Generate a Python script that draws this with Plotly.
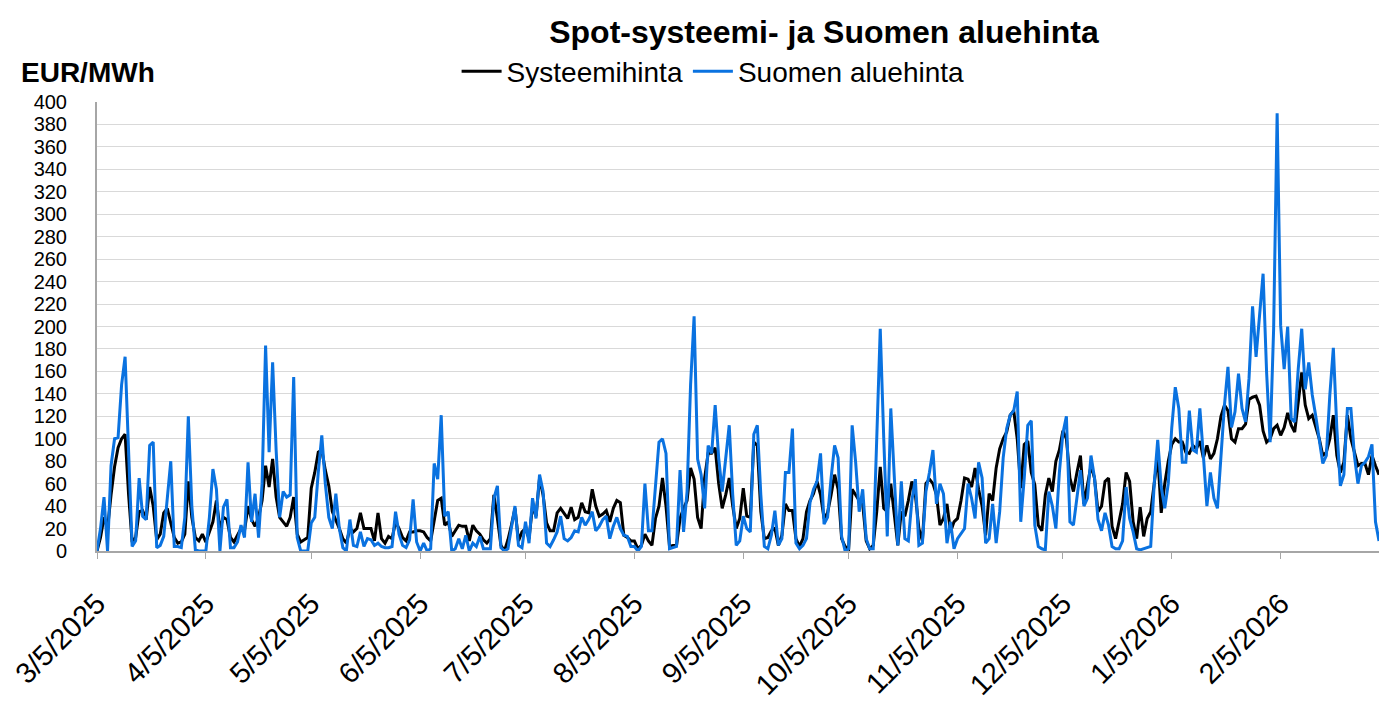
import pandas as pd
import plotly.graph_objects as go

# Daily prices, EUR/MWh, month by month (5th to 4th)
sys_m01 = [0,12,30,20,50,75,92,100,104,50,8,12,35,36,28,57,40,10,15,34,38,25,12,7,8,15,62,30,12,9,15]
fin_m01 = [0,20,48,0,76,100,101,148,173,80,4,9,65,31,28,94,97,3,5,13,45,80,4,4,3,30,120,40,1,0,0]
sys_m02 = [8,18,26,45,20,30,28,12,8,14,20,18,40,28,22,30,45,76,57,82,48,30,26,22,30,48,15,8,10,12]
fin_m02 = [0,30,73,55,0,39,46,3,3,8,23,12,79,26,51,12,60,183,88,168,90,30,53,48,50,155,12,0,0,0]
sys_m03 = [56,70,88,90,72,58,35,28,20,11,7,20,17,20,34,20,20,20,9,34,11,7,13,11,26,20,12,9,17,17,18]
fin_m03 = [25,30,70,103,60,30,20,51,20,3,0,28,5,4,17,4,11,10,5,7,4,3,3,4,35,15,5,3,10,46,8]
sys_m04 = [18,17,12,9,26,45,47,23,26,13,18,23,22,22,9,23,18,15,10,7,11,50,29,5,0,10,23,38,9,17]
fin_m04 = [0,7,0,2,78,64,121,31,35,0,2,11,2,14,0,7,4,13,2,2,2,47,58,3,0,2,20,40,5,3]
sys_m05 = [20,11,40,31,65,50,25,18,18,34,38,34,29,39,28,30,43,35,34,55,40,31,33,36,26,38,45,43,14,12,9]
fin_m05 = [26,7,47,29,68,53,7,4,10,17,31,11,9,12,18,17,30,23,28,35,18,22,28,31,11,22,30,20,14,13,4]
sys_m06 = [9,2,5,15,9,5,29,40,65,40,4,5,5,29,38,45,74,64,30,20,65,87,87,92,60,38,50,65,40,20,29]
fin_m06 = [4,0,4,60,18,18,60,97,100,87,2,3,4,72,17,53,148,209,82,68,38,94,87,130,83,53,85,112,50,5,9]
sys_m07 = [56,31,30,97,94,35,11,12,18,20,5,14,42,36,36,11,4,11,35,45,51,62,50,29,34,50,68,55,11,4]
fin_m07 = [31,20,17,104,112,50,4,2,14,36,5,11,70,70,109,7,2,5,11,43,55,62,87,24,30,65,94,83,13,0]
sys_m08 = [2,55,50,45,42,9,2,5,35,75,38,35,60,30,5,35,31,45,62,50,20,9,60,64,60,50,23,29,42,17,26]
fin_m08 = [2,112,79,35,55,11,2,2,94,198,100,13,127,68,5,62,11,9,45,64,5,7,53,70,90,42,60,51,7,26,2]
sys_m09 = [29,45,65,64,57,74,55,40,14,51,45,74,91,100,106,121,125,100,56,95,98,70,59,23,18,50,65,53,80,90]
fin_m09 = [11,15,20,60,47,29,79,65,7,11,42,7,35,83,109,121,125,142,26,65,112,116,23,4,2,1,53,40,20,70]
sys_m10 = [107,100,65,53,70,85,42,60,76,65,35,40,62,65,22,11,25,42,70,62,26,11,39,13,29,35,60,85,34,60,80]
fin_m10 = [105,120,26,23,50,72,40,47,85,65,28,18,34,23,4,2,2,9,57,29,17,2,1,2,3,4,60,99,57,38,60]
sys_m11 = [95,100,97,97,88,87,94,91,98,83,94,82,87,100,120,130,125,100,97,109,109,113,135,137,138,130,107,97,100,109,112]
fin_m11 = [110,146,127,79,79,125,90,88,127,85,40,70,47,38,85,130,164,110,124,158,127,115,154,218,173,210,247,159,97,198,390]
sys_m12 = [103,110,123,112,106,130,159,130,118,121,110,100,85,88,100,121,85,70,79,121,100,88,76,78,78,68,85,76,68]
fin_m12 = [201,162,200,118,115,162,198,144,168,139,120,100,78,85,139,181,109,58,68,127,127,85,60,76,79,84,95,26,9]

start_date = "2025-03-05"
tick_dates = ["2025-03-05","2025-04-05","2025-05-05","2025-06-05","2025-07-05","2025-08-05",
              "2025-09-05","2025-10-05","2025-11-05","2025-12-05","2026-01-05","2026-02-05"]
tick_labels = ["3/5/2025","4/5/2025","5/5/2025","6/5/2025","7/5/2025","8/5/2025",
               "9/5/2025","10/5/2025","11/5/2025","12/5/2025","1/5/2026","2/5/2026"]
y_ticks = list(range(0, 401, 20))

system = sum([sys_m01, sys_m02, sys_m03, sys_m04, sys_m05, sys_m06,
              sys_m07, sys_m08, sys_m09, sys_m10, sys_m11, sys_m12], [])
finland = sum([fin_m01, fin_m02, fin_m03, fin_m04, fin_m05, fin_m06,
               fin_m07, fin_m08, fin_m09, fin_m10, fin_m11, fin_m12], [])
dates = pd.date_range(start_date, periods=len(system), freq="D")

FONT = "Liberation Sans, Arial, sans-serif"

fig = go.Figure()
fig.add_trace(go.Scatter(x=dates, y=system, mode="lines", name="Systeemihinta",
                         line=dict(color="#000000", width=3)))
fig.add_trace(go.Scatter(x=dates, y=finland, mode="lines", name="Suomen aluehinta",
                         line=dict(color="#0A72E0", width=3)))

fig.update_layout(
    width=1379, height=707,
    margin=dict(l=97, r=0, t=102, b=156, autoexpand=False),
    paper_bgcolor="white", plot_bgcolor="white",
    font=dict(family=FONT, color="#000000", size=24),
    title=dict(text="<b>Spot-systeemi- ja Suomen aluehinta</b>", xref="container", x=0.5975,
               xanchor="center", yref="container", y=0.955, yanchor="middle",
               font=dict(size=32, family=FONT, color="#000000")),
    legend=dict(orientation="h", x=0.2805, xanchor="left", y=1.068, yanchor="middle",
                font=dict(size=28, family=FONT), bgcolor="rgba(0,0,0,0)",
                itemwidth=40, tracegroupgap=0),
    showlegend=True,
)
fig.add_annotation(text="<b>EUR/MWh</b>", xref="paper", yref="paper", x=-0.061, y=1.065,
                   xanchor="left", yanchor="middle", showarrow=False,
                   font=dict(size=28, family=FONT, color="#000000"))

fig.update_xaxes(range=[dates[0], dates[-1]], tickvals=pd.to_datetime(tick_dates), ticktext=tick_labels,
                 tickangle=-45, tickfont=dict(size=29, family=FONT), automargin=False,
                 showgrid=False, showline=True, linecolor="#A6A6A6", linewidth=2,
                 ticks="outside", ticklen=6, tickcolor="#A6A6A6", zeroline=False,
                 ticklabelstandoff=16)
fig.update_yaxes(range=[0, 400], tickvals=y_ticks, tickfont=dict(size=20, family=FONT),
                 automargin=False,
                 showgrid=True, gridcolor="#D9D9D9", gridwidth=1,
                 showline=True, linecolor="#A6A6A6", linewidth=2,
                 ticks="", zeroline=False, ticklabelstandoff=24)

fig.write_html("out.html", config={"displayModeBar": False},
               post_script="document.body.style.margin='0px';")
